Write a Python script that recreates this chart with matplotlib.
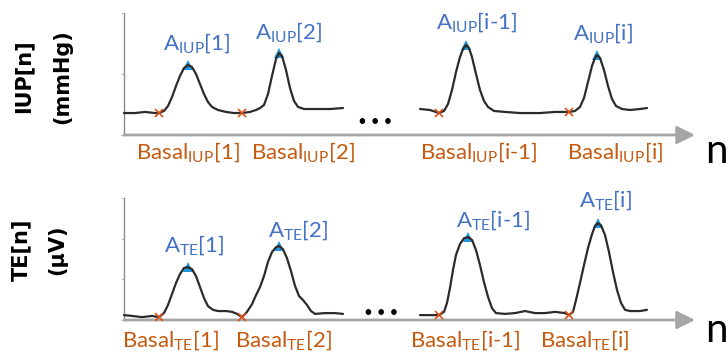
"""IUP / TE peak and basal schematic"""
import numpy as np
import matplotlib
matplotlib.use("Agg")
import matplotlib.pyplot as plt
from matplotlib.transforms import blended_transform_factory

plt.rcParams['font.family'] = ['Lato', 'DejaVu Sans']
plt.rcParams['mathtext.fontset'] = 'custom'
plt.rcParams['mathtext.rm'] = 'Lato'
plt.rcParams['mathtext.it'] = 'Lato:italic'
plt.rcParams['mathtext.bf'] = 'Lato:bold'

# ---- data (sample index n, signal value) ----
# IUP in mmHg, two recorded stretches
iup_n1 = [0, 11, 21, 31, 35, 40, 44, 48, 52, 56, 60, 64, 68, 72, 76, 80, 84,
          88, 94, 102, 110, 118, 126, 132, 136, 140, 144, 148, 152, 155, 158,
          162, 166, 170, 174, 180, 191, 206, 219]
iup_v1 = [18.0, 18.0, 18.9, 18.0, 18.0, 19.7, 23.8, 31.1, 40.2, 48.4, 54.9,
          57.4, 55.7, 50.0, 41.8, 33.6, 27.0, 23.0, 20.5, 18.9, 18.0, 18.0,
          18.9, 20.5, 22.1, 24.6, 33.6, 48.4, 62.3, 67.2, 64.8, 53.3, 38.5,
          27.9, 23.0, 21.3, 21.3, 21.3, 22.1]
iup_n2 = [296, 306, 315, 320, 324, 328, 332, 336, 339, 342, 345, 348, 352, 356,
          360, 364, 370, 381, 396, 416, 431, 441, 445, 451, 456, 460, 464, 468,
          471, 473, 476, 480, 484, 488, 492, 498, 506, 516, 523]
iup_v2 = [21.3, 20.5, 18.0, 19.7, 25.4, 36.9, 51.6, 63.9, 70.5, 73.8, 71.3,
          63.9, 50.0, 36.9, 27.9, 23.0, 19.7, 18.9, 18.0, 18.0, 18.9, 18.9,
          18.9, 19.7, 23.0, 30.3, 43.4, 56.6, 63.1, 65.6, 63.1, 53.3, 40.2,
          29.5, 23.8, 21.3, 20.5, 21.3, 22.1]

# TE in uV
te_n1 = [0, 8, 18, 28, 35, 40, 44, 48, 52, 56, 60, 64, 68, 72, 76, 80, 84, 89,
         94, 102, 108, 113, 118, 123, 128, 132, 136, 140, 144, 148, 152, 155,
         159, 163, 167, 171, 175, 179, 183, 187, 191, 201, 211, 219]
te_v1 = [1.2, 1.0, 0.7, 1.0, 0.7, 1.7, 3.7, 6.4, 9.1, 11.3, 12.8, 13.0, 12.5,
         10.8, 8.1, 5.4, 3.4, 2.5, 2.2, 2.2, 2.0, 1.5, 0.7, 2.0, 3.9, 6.1, 8.1,
         10.8, 14.3, 16.7, 17.9, 18.2, 17.4, 15.2, 12.0, 8.4, 5.9, 4.9, 3.7,
         2.2, 1.5, 1.7, 1.7, 1.5]
te_n2 = [296, 306, 315, 320, 323, 326, 329, 332, 336, 340, 344, 348, 352, 356,
         360, 364, 368, 372, 381, 391, 401, 411, 421, 431, 441, 445, 449, 452,
         456, 460, 464, 468, 471, 474, 477, 481, 485, 489, 493, 497, 501, 506,
         516, 523]
te_v2 = [1.2, 1.2, 1.2, 2.0, 4.2, 7.9, 12.3, 16.0, 18.7, 20.1, 20.4, 19.7, 17.2,
         13.5, 9.3, 5.7, 2.9, 1.7, 1.5, 1.7, 2.2, 1.7, 1.7, 2.0, 1.7, 1.2, 2.0,
         4.9, 9.1, 13.5, 17.7, 21.1, 23.1, 23.8, 23.3, 20.9, 16.7, 11.8, 7.4,
         4.2, 2.5, 2.2, 2.2, 2.5]

# detected points
iup_peak_n = [64, 155, 342, 473]
iup_basal_n = [35, 118, 315, 445]
te_peak_n = [64, 155, 344, 474]
te_basal_n = [35, 118, 315, 445]

peak_idx = ['1', '2', 'i-1', 'i']

# ---- layout ----
W, H = 728, 356
LINE = '#2b2b2b'
BLUE_TXT = '#4472C4'
ORANGE_TXT = '#C55A11'
TRI = '#2196dc'
XMK = '#D95319'

fig = plt.figure(figsize=(W / 100, H / 100), dpi=100)


def fx(px):
    return px / W


def fy(py):
    return 1 - py / H


def panel(top_px, bottom_px, ylim, yticks, segs, peaks, basals, sub,
          peak_lab_xy, basal_lab_x, basal_lab_y):
    ax = fig.add_axes([fx(124), fy(bottom_px), fx(695) - fx(124),
                       (bottom_px - top_px) / H])
    ax.set_xlim(0, 571)
    ax.set_ylim(*ylim)
    for s in ['top', 'right', 'bottom']:
        ax.spines[s].set_visible(False)
    ax.spines['left'].set_color('#8c8c8c')
    ax.spines['left'].set_linewidth(1.0)
    ax.set_xticks([])
    ax.set_yticks(yticks)
    ax.set_yticklabels([])
    ax.tick_params(axis='y', direction='out', length=2.5, width=0.8,
                   color='#c0c0c0')
    ax.patch.set_visible(False)

    # n axis arrow
    ax.annotate('', xy=(1, 0), xytext=(0, 0), xycoords='axes fraction',
                arrowprops=dict(arrowstyle='-|>,head_length=1.1,head_width=0.55',
                                color='#a6a6a6', lw=2, mutation_scale=10,
                                shrinkA=0, shrinkB=0),
                annotation_clip=False)

    all_n = np.concatenate([np.array(s[0]) for s in segs])
    all_v = np.concatenate([np.array(s[1]) for s in segs])
    for n, v in segs:
        ax.plot([n[0], n[-1]], [ylim[0], ylim[0]], color='#7f7f7f', lw=1.2,
                clip_on=False, zorder=2)
        ax.plot(n, v, color=LINE, lw=1.6, solid_joinstyle='round',
                solid_capstyle='round', zorder=4, clip_on=False)

    pv = np.interp(peaks, all_n, all_v)
    bv = np.interp(basals, all_n, all_v)
    ax.plot(peaks, pv, linestyle='none', marker='^', ms=7, color=TRI,
            markeredgewidth=0, zorder=3, clip_on=False)
    ax.plot(basals, bv, linestyle='none', marker='x', ms=5.5, mew=1.2,
            color=XMK, zorder=5, clip_on=False)

    for k, lab in enumerate(peak_idx):
        ax.text(peak_lab_xy[k][0], peak_lab_xy[k][1],
                'A$_{\\mathrm{%s}}$[%s]' % (sub, lab), color=BLUE_TXT,
                fontsize=16, ha='center', va='center')
    trans = blended_transform_factory(ax.transData, ax.transAxes)
    for k, lab in enumerate(peak_idx):
        ax.text(basal_lab_x[k], basal_lab_y,
                'Basal$_{\\mathrm{%s}}$[%s]' % (sub, lab), color=ORANGE_TXT,
                fontsize=16, ha='center', va='center', transform=trans)
    return ax


panel(13, 135, (0, 100), [0, 50, 100],
      [(iup_n1, iup_v1), (iup_n2, iup_v2)], iup_peak_n, iup_basal_n, 'IUP',
      [(73, 75.4), (165, 84.4), (353, 92.6), (479, 83.6)],
      [64, 179, 355, 491], -0.139)

panel(198, 320, (0, 30), [0, 10, 20, 30],
      [(te_n1, te_v1), (te_n2, te_v2)], te_peak_n, te_basal_n, 'TE',
      [(70, 18.4), (174, 22.1), (369, 24.6), (481, 29.5)],
      [46, 159, 341, 461], -0.164)

# gap marks and axis name
dots = dict(fontsize=11, ha='center', va='center', color='black')
fig.text(fx(375), fy(122), '\u2022 \u2022 \u2022', **dots)
fig.text(fx(381), fy(313), '\u2022 \u2022 \u2022', **dots)
fig.text(fx(705), fy(163), 'n', fontsize=29, ha='left', va='baseline')
fig.text(fx(705), fy(342), 'n', fontsize=29, ha='left', va='baseline')

# y labels
ylab = dict(family='DejaVu Sans', weight='bold', fontsize=15, rotation=90,
            ha='center', va='center', color='black')
fig.text(fx(23), fy(76), 'IUP[n]', **ylab)
fig.text(fx(62), fy(77), '(mmHg)', **ylab)
fig.text(fx(21), fy(250), 'TE[n]', **ylab)
fig.text(fx(57), fy(250), '(\u03bcV)', **ylab)

fig.savefig('out.png', dpi=100)
